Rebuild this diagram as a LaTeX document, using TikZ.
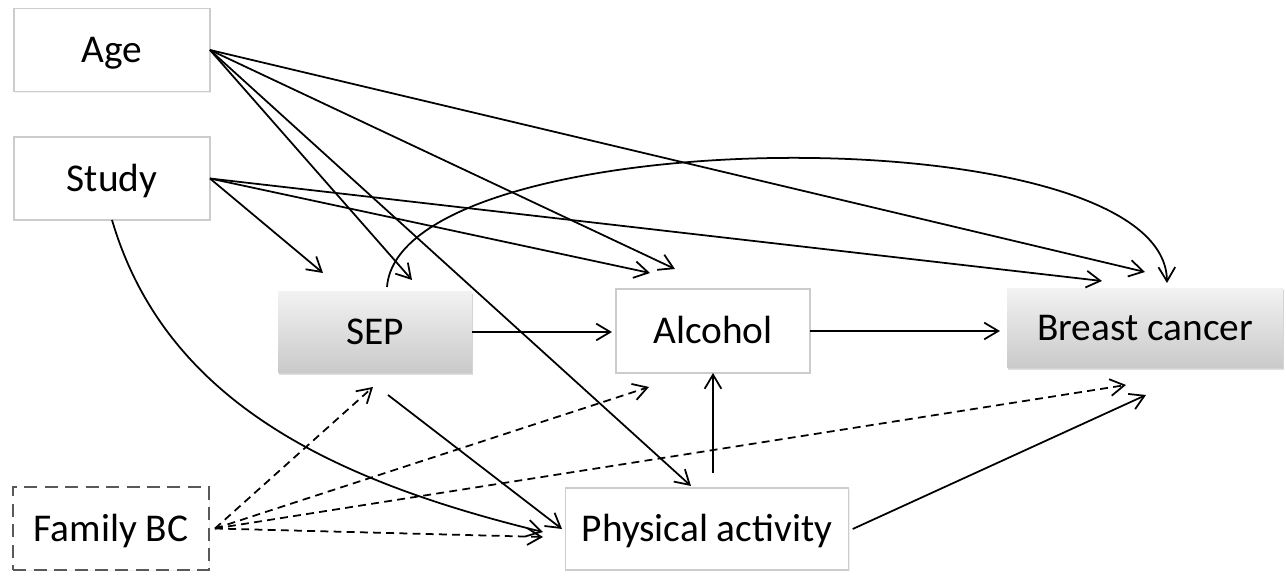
\documentclass[tikz,border=0pt]{standalone}
\usepackage{fontspec}
\setmainfont{Carlito}
\usetikzlibrary{arrows.meta,shadows}

\begin{document}
\begin{tikzpicture}[x=0.02cm,y=-0.02cm,inner sep=0pt,outer sep=0pt,line width=1pt,
>={Straight Barb[length=8pt,width=9.5pt]},
var/.style={draw=gray!40,line width=0.6pt,fill=white,rectangle,minimum width=3.92cm,minimum height=1.66cm,
  font=\fontsize{22.4}{26}\selectfont,text height=0.6cm,text depth=0.08cm,
  drop shadow={opacity=0.12,shadow xshift=0.6pt,shadow yshift=-0.8pt}},
shadedvar/.style={var,draw=none,top color=gray!10,bottom color=gray!42,
  drop shadow={opacity=0.25,shadow xshift=0.8pt,shadow yshift=-1.2pt}},
latent/.style={var,draw=black!65,line width=1.3pt,dash pattern=on 0.26cm off 0.15cm,drop shadow={opacity=0}},
dashedarrow/.style={->,dash pattern=on 4.5pt off 3pt}]
\useasboundingbox (0,0) rectangle (1286,577);

\draw (112,50) node[var] (age) {Age};
\draw (112,178.5) node[var] (study) {Study};
\draw (375,332) node[shadedvar,minimum width=3.88cm,minimum height=1.62cm] (sep) {SEP};
\draw (713,331) node[var,minimum width=3.88cm,minimum height=1.68cm] (alc) {Alcohol};
\draw (1145,328) node[shadedvar,minimum width=5.52cm,minimum height=1.6cm] (bc) {Breast cancer};
\draw (111,528.5) node[latent] (fam) {Family BC};
\draw (707,529) node[var,minimum width=5.67cm,minimum height=1.64cm] (pa) {Physical activity};

% free ends near the boxes
\coordinate (sepA) at (412,280);
\coordinate (sepS) at (323,273);
\coordinate (alcA) at (675,269);
\coordinate (alcS) at (650,273);
\coordinate (bcA) at (1145,272);
\coordinate (bcS) at (1102,281);
\coordinate (bcT) at (1167,283);
\coordinate (paA) at (691,486);
\coordinate (sepB) at (388,395);
\coordinate (paL) at (562,529);
\coordinate (paC) at (543,532);
\coordinate (paF) at (543,537);
\coordinate (sepF) at (373,387);
\coordinate (alcF) at (649,387);
\coordinate (bcF) at (1126,385);
\coordinate (bcP) at (1146,395);
\coordinate (sepT) at (387,287);
\coordinate (paT) at (713,473);

\draw[->] (age.east) -- (sepA);
\draw[->] (age.east) -- (alcA);
\draw[->] (age.east) -- (bcA);
\draw[->] (age.east) -- (paA);
\draw[->] (study.east) -- (sepS);
\draw[->] (study.east) -- (alcS);
\draw[->] (study.east) -- (bcS);
\draw[->] (study.south) .. controls (165,400) and (330,480) .. (paC);
\draw[->] (sepT) .. controls (400,120) and (1165,112) .. (bcT);
\draw[->] (sep.east) -- ++(140,0);
\draw[->] (alc.east) -- ++(190,0);
\draw[->] (sepB) -- (paL);
\draw[->] (paT) -- (alc.south);
\draw[->] (pa.east) ++(4,0) -- (bcP);
%\draw[->] (fam) -- (sep);
\draw[dashedarrow] (fam.east) ++(6,0) -- (sepF);
\draw[dashedarrow] (fam.east) ++(6,0) -- (alcF);
\draw[dashedarrow] (fam.east) ++(6,0) -- (bcF);
\draw[dashedarrow] (fam.east) ++(6,0) -- (paF);
\end{tikzpicture}
\end{document}
